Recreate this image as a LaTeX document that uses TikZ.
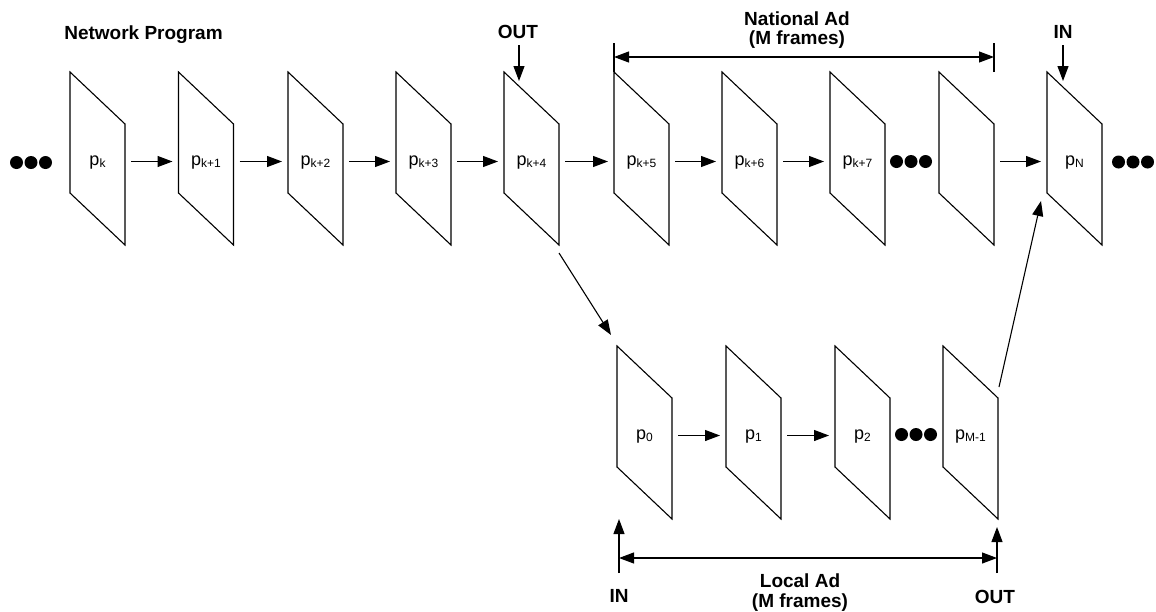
\documentclass[tikz,border=0pt]{standalone}
\usepackage{fontspec}
\setmainfont{Liberation Sans}
\usetikzlibrary{arrows.meta}
% frame label: p with a lowered, smaller index
\newcommand{\fsub}[1]{p\raisebox{-2pt}{\fontsize{12}{12}\selectfont #1}}

\begin{document}
\begin{tikzpicture}[x=1pt,y=-1pt,
  frame/.style={minimum width=55pt,minimum height=173pt,inner sep=0pt,outer sep=0pt,
    text height=16pt,text depth=2pt,font=\fontsize{18}{20}\selectfont},
  edge/.style={line width=1.1pt,line join=miter},
  arr/.style={line width=1.1pt,-{Triangle[length=15pt,width=11pt]}},
  dim/.style={line width=1.1pt,{Triangle[length=15pt,width=11pt]}-{Triangle[length=15pt,width=11pt]}},
  tickline/.style={line width=1.1pt},
  title/.style={inner sep=0pt,font=\fontsize{19}{18.5}\selectfont\bfseries,align=center},
  dot/.style={circle,fill,inner sep=0pt,minimum size=13pt}]
\useasboundingbox (0,0) rectangle (1156,611);

% network program frames
\foreach \n/\x/\t in {f1/97.5/k, f2/206/k+1, f3/315.5/k+2, f4/423.5/k+3, f5/531.5/k+4,
                      f6/641.5/k+5, f7/749.5/k+6, f8/857.5/k+7, f10/1074.5/N}
  \node[frame] (\n) at (\x,158.5) {\fsub{\t}};
\node[frame] (f9) at (966.5,158.5) {};

% local ad frames
\foreach \n/\x/\t in {b1/644.5/0, b2/753.5/1, b3/862.5/2, b4/970.5/M-1}
  \node[frame] (\n) at (\x,432.5) {\fsub{\t}};

% slanted frame outlines
\foreach \n in {f1,f2,f3,f4,f5,f6,f7,f8,f9,f10,b1,b2,b3,b4}
  \draw[edge] (\n.north west) -- ++(0,121) -- (\n.south east) -- ++(0,-121) -- cycle;

% ellipses
\foreach \n/\cx/\cy in {dl/31/162.5, dm/911/161.5, dr/1133/162, db/916/434.5}
  \foreach \k/\dx in {1/-14.5, 2/0, 3/14.5}
    \node[dot] (\n\k) at (\cx+\dx,\cy) {};

% frame-to-frame arrows
\foreach \a/\b in {f1/f2,f2/f3,f3/f4,f4/f5,f5/f6,f6/f7,f7/f8,f9/f10,b1/b2,b2/b3}
  \draw[arr] ([xshift=6pt,yshift=-3pt]\a.east) -- ([xshift=-6pt,yshift=-3pt]\b.west);

% splice out to the local ad and back in
\draw[arr] ([yshift=-8pt]f5.south east) -- ([xshift=-6pt,yshift=11pt]b1.north west);
\draw[arr] ([xshift=1pt,yshift=132pt]b4.south east) -- ([xshift=-6pt,yshift=-129pt]f10.north west);

% titles (a two-line node sits on the baseline of its last line)
\node[title,anchor=base] (np) at (143.5,39) {Network Program};
\node[title,anchor=base] (outA) at (518,38) {OUT};
\node[title,anchor=base] (inA) at (1063,38) {IN};
\node[title,anchor=base] (nat) at (797,44) {National Ad\\(M frames)};
\node[title,anchor=base] (loc) at (800,607) {Local Ad\\[1.5pt](M frames)};
\node[title,anchor=base] (inB) at (619,602) {IN};
\node[title,anchor=base] (outB) at (995,603) {OUT};

% splice point markers on the network stream
\draw[arr] ([xshift=1pt,yshift=-7pt]outA.base) -- ([xshift=1pt,yshift=-43pt]outA.base);
\draw[arr] ([yshift=-7pt]inA.base) -- ([yshift=-43pt]inA.base);

% national ad span
\draw[tickline] (f6.north west) -- ++(0,-29);
\draw[tickline] (f9.north east) -- ++(0,-29);
\draw[dim] ([yshift=15pt]f6.north west) -- ([yshift=15pt]f9.north east);

% local ad span with its in/out points
\draw[arr] ([xshift=2pt,yshift=-54pt]b1.south west) -- ([xshift=2pt]b1.south west);
\draw[arr] ([xshift=-1pt,yshift=-54pt]b4.south east) -- ([xshift=-1pt,yshift=-8pt]b4.south east);
\draw[dim] ([xshift=2pt,yshift=-39pt]b1.south west) -- ([xshift=-1pt,yshift=-39pt]b4.south east);
\end{tikzpicture}
\end{document}
